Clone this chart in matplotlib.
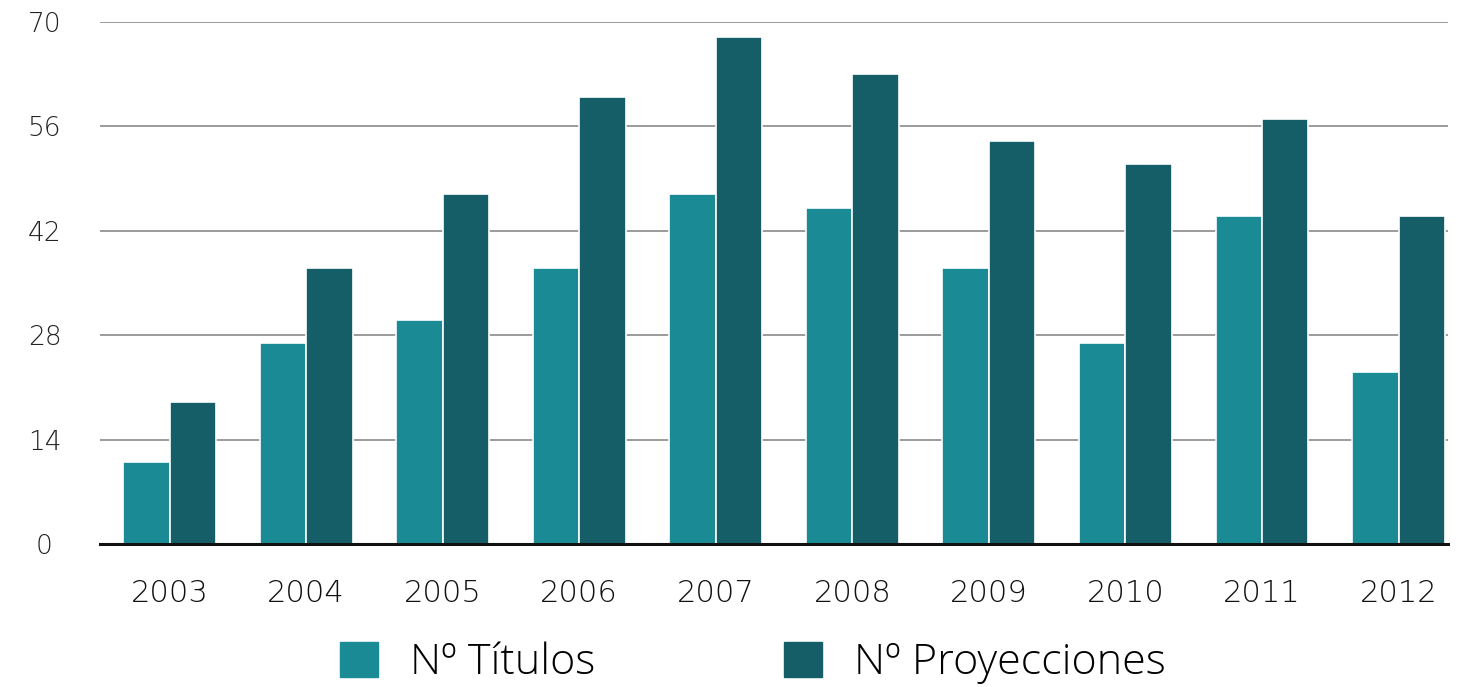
import numpy as np
import matplotlib
matplotlib.use('Agg')
import matplotlib.pyplot as plt
from matplotlib.patches import Patch

years = ['2003', '2004', '2005', '2006', '2007', '2008', '2009', '2010', '2011', '2012']
titulos = [11, 27, 30, 37, 47, 45, 37, 27, 44, 23]
proyecciones = [19, 37, 47, 60, 68, 63, 54, 51, 57, 44]
y_ticks = [0, 14, 28, 42, 56, 70]

teal = '#1A8A94'
dark = '#155E67'

fig = plt.figure(figsize=(14.62, 6.87), dpi=100)
ax = fig.add_axes([100 / 1462, 1 - 544 / 687, 1348 / 1462, 522 / 687])

x = np.arange(len(years))
w = 0.34
ax.bar(x - w / 2, titulos, w, color=teal, edgecolor='white', linewidth=1.2, zorder=3)
ax.bar(x + w / 2, proyecciones, w, color=dark, edgecolor='white', linewidth=1.2, zorder=3)

ax.set_xlim(-0.509, 9.362)
ax.set_ylim(0, 70)
ax.set_yticks(y_ticks)
ax.set_yticklabels([str(t) for t in y_ticks], fontsize=19, family='DejaVu Sans',
                   weight='ultralight', color='#222222')
ax.set_xticks(x)
ax.set_xticklabels(years, fontsize=22, family='DejaVu Sans', weight='ultralight', color='#111111')
ax.tick_params(axis='both', length=0)
ax.tick_params(axis='y', pad=40)
ax.tick_params(axis='x', pad=25)
for lab in ax.get_yticklabels():
    lab.set_horizontalalignment('center')

ax.grid(axis='y', color='#8a8a8a', linewidth=1.2, zorder=0)
for s in ['top', 'right', 'left']:
    ax.spines[s].set_visible(False)
ax.spines['bottom'].set_linewidth(2.2)
ax.spines['bottom'].set_color('#111111')
ax.spines['bottom'].set_zorder(4)

handles = [Patch(color=teal, label='Nº Títulos'), Patch(color=dark, label='Nº Proyecciones')]
fig.legend(handles=handles, loc='center', bbox_to_anchor=(753 / 1462, 1 - 663 / 687),
           ncol=2, frameon=False, prop={'family': 'Open Sans', 'size': 31, 'weight': 'light'},
           handlelength=0.88, handleheight=0.88, handletextpad=0.74, columnspacing=4.4)

fig.savefig('out.png', dpi=100)
